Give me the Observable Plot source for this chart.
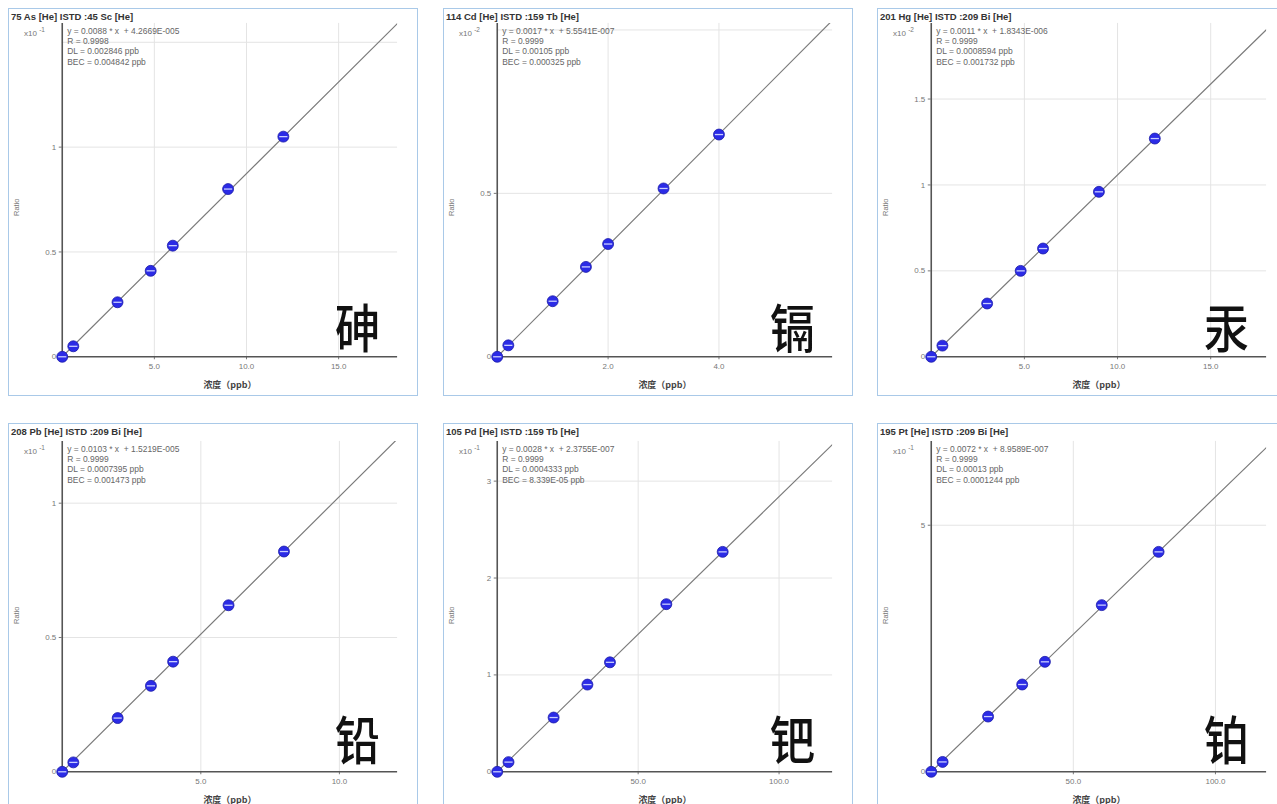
<!DOCTYPE html>
<html><head><meta charset="utf-8">
<script src="https://cdn.jsdelivr.net/npm/d3@7"></script>
<script src="https://cdn.jsdelivr.net/npm/@observablehq/plot@0.6"></script>
<style>
html,body{margin:0;padding:0;background:#fff;}
body{width:1277px;height:804px;overflow:hidden;position:relative;font-family:"Liberation Sans",Arial,sans-serif;}
.panel{position:absolute;border:1px solid #a9c9e8;box-sizing:border-box;background:#fff;overflow:hidden;}
.panel svg{position:absolute;left:0;top:0;}
.title{position:absolute;left:2px;top:2px;font-size:9.5px;font-weight:bold;color:#333;white-space:nowrap;z-index:2;}
.exp{position:absolute;font-size:8px;color:#777;white-space:nowrap;z-index:2;}
.exp sup{font-size:6.5px;}
.ratio{position:absolute;font-size:7.5px;color:#777;transform:rotate(-90deg);transform-origin:left top;white-space:nowrap;z-index:2;}
</style></head><body>
<div id="root"></div>
<script>
// ---- data ----
const titles = ["75 As [He] ISTD :45 Sc [He]", "114 Cd [He] ISTD :159 Tb [He]", "201 Hg [He] ISTD :209 Bi [He]",
                "208 Pb [He] ISTD :209 Bi [He]", "105 Pd [He] ISTD :159 Tb [He]", "195 Pt [He] ISTD :209 Bi [He]"];
const elements = ["砷", "镉", "汞", "铅", "钯", "铂"];
const exponents = ["-1", "-2", "-2", "-1", "-1", "-1"];
const equations = ["y = 0.0088 * x  + 4.2669E-005", "y = 0.0017 * x  + 5.5541E-007", "y = 0.0011 * x  + 1.8343E-006",
                   "y = 0.0103 * x  + 1.5219E-005", "y = 0.0028 * x  + 2.3755E-007", "y = 0.0072 * x  + 8.9589E-007"];
const rValues = ["R = 0.9998", "R = 0.9999", "R = 0.9999", "R = 0.9999", "R = 0.9999", "R = 0.9999"];
const dlValues = ["DL = 0.002846 ppb", "DL = 0.00105 ppb", "DL = 0.0008594 ppb", "DL = 0.0007395 ppb", "DL = 0.0004333 ppb", "DL = 0.00013 ppb"];
const becValues = ["BEC = 0.004842 ppb", "BEC = 0.000325 ppb", "BEC = 0.001732 ppb", "BEC = 0.001473 ppb", "BEC = 8.339E-05 ppb", "BEC = 0.0001244 ppb"];

const concAs = [0, 0.6, 3, 4.8, 6, 9, 12];
const ratioAs = [0, 0.05, 0.26, 0.41, 0.53, 0.80, 1.05];
const concCd = [0, 0.2, 1, 1.6, 2, 3, 4];
const ratioCd = [0, 0.035, 0.17, 0.275, 0.345, 0.515, 0.68];
const concHg = [0, 0.6, 3, 4.8, 6, 9, 12];
const ratioHg = [0, 0.065, 0.31, 0.50, 0.63, 0.96, 1.27];
const concPb = [0, 0.4, 2, 3.2, 4, 6, 8];
const ratioPb = [0, 0.035, 0.20, 0.32, 0.41, 0.62, 0.82];
const concPd = [0, 4, 20, 32, 40, 60, 80];
const ratioPd = [0, 0.10, 0.56, 0.90, 1.13, 1.73, 2.27];
const concPt = [0, 4, 20, 32, 40, 60, 80];
const ratioPt = [0, 0.20, 1.12, 1.77, 2.23, 3.38, 4.46];

const xMax = [18.2, 6.05, 18.0, 12.1, 119, 118];
const yMax = [1.59, 1.02, 1.94, 1.23, 3.41, 6.7];
const fitEndX = [18.2, 6.05, 18.0, 12.1, 119, 118];
const fitEndY = [1.59, 1.03, 1.905, 1.24, 3.38, 6.58];

const xTicks = [[5, 10, 15], [2, 4], [5, 10, 15], [5, 10], [50, 100], [50, 100]];
const yTicks = [[0, 0.5, 1], [0, 0.5], [0, 0.5, 1, 1.5], [0, 0.5, 1], [0, 1, 2, 3], [0, 5]];
const yGrid = [[0.5, 1, 1.5], [0.5, 1], [0.5, 1, 1.5], [0.5, 1], [1, 2, 3], [5]];
const xLabel = "浓度（ppb）";
const yLabel = "Ratio";

const concs = [concAs, concCd, concHg, concPb, concPd, concPt];
const ratios = [ratioAs, ratioCd, ratioHg, ratioPb, ratioPd, ratioPt];

// ---- layout ----
const panelLeft = [8, 443, 877, 8, 443, 877];
const panelTop = [8, 8, 8, 423, 423, 423];
const W = 410;

const barSymbol = {
  draw(ctx, size) {
    const r = Math.sqrt(size / Math.PI) * 0.75;
    ctx.moveTo(-r, 0); ctx.lineTo(r, 0);
  }
};

const root = document.getElementById("root");
for (let i = 0; i < 6; i++) {
  const row2 = i >= 3;
  const H = row2 ? 390 : 388;
  const mTop = row2 ? 17 : 14;
  const mBottom = row2 ? 41 : 39;
  const pts = concs[i].map((c, k) => ({c, r: ratios[i][k]}));
  const fit = [{c: 0, r: 0}, {c: fitEndX[i], r: fitEndY[i]}];

  const panel = document.createElement("div");
  panel.className = "panel";
  panel.style.left = panelLeft[i] + "px";
  panel.style.top = panelTop[i] + "px";
  panel.style.width = W + "px";
  panel.style.height = H + "px";
  root.appendChild(panel);

  const chart = Plot.plot({
    width: W, height: H,
    marginLeft: 53, marginRight: 20, marginTop: mTop, marginBottom: mBottom,
    style: {fontFamily: "'Liberation Sans', Arial, sans-serif", fontSize: "8px", color: "#777", background: "transparent"},
    x: {domain: [0, xMax[i]], ticks: xTicks[i], tickFormat: d3.format(".1f"), tickSize: 3, tickPadding: 4, label: null},
    y: {domain: [0, yMax[i]], ticks: yTicks[i], tickFormat: d => String(d), tickSize: 3, tickPadding: 3, label: null},
    marks: [
      Plot.ruleX(xTicks[i], {stroke: "#e4e4e4", strokeWidth: 1}),
      Plot.ruleY(yGrid[i], {stroke: "#e4e4e4", strokeWidth: 1}),
      Plot.ruleX([0], {stroke: "#555", strokeWidth: 1.6}),
      Plot.ruleY([0], {stroke: "#555", strokeWidth: 1.6}),
      Plot.line(fit, {x: "c", y: "r", stroke: "#7c7c7c", strokeWidth: 1.2, clip: true}),
      Plot.dot(pts, {x: "c", y: "r", r: 5.5, fill: "#2b2be6", stroke: "#1a1aa8", strokeWidth: 0.8}),
      Plot.dot(pts, {x: "c", y: "r", r: 5.5, symbol: barSymbol, stroke: "#c9ceff", strokeWidth: 1.3}),
      Plot.text([[equations[i], rValues[i], dlValues[i], becValues[i]].join("\n")], {
        frameAnchor: "top-left", dx: 5, dy: 3, textAnchor: "start", lineAnchor: "top",
        lineHeight: 1.22, fontSize: 8.5, fill: "#666"
      }),
      Plot.text([elements[i]], {
        frameAnchor: "bottom-right", dx: -18, dy: row2 ? -12 : -9, textAnchor: "end", lineAnchor: "bottom",
        fontSize: 52, fontFamily: "'Noto Sans CJK SC', sans-serif", fontWeight: 500, fill: "#111",
        className: "bigchar"
      }),
      Plot.text([xLabel], {
        frameAnchor: "bottom", dy: 28, lineAnchor: "middle", fontSize: 9, fontWeight: "bold",
        fontFamily: "'Noto Sans CJK SC', sans-serif", fill: "#444"
      })
    ]
  });
  // narrow the big character glyph to match the reference's aspect
  d3.select(chart).selectAll("text").filter(function() { return this.textContent === elements[i]; })
    .attr("textLength", 45).attr("lengthAdjust", "spacingAndGlyphs");
  panel.appendChild(chart);

  const t = document.createElement("div");
  t.className = "title"; t.textContent = titles[i];
  panel.appendChild(t);

  const e = document.createElement("div");
  e.className = "exp"; e.innerHTML = "x10 <sup>" + exponents[i] + "</sup>";
  e.style.left = "15px"; e.style.top = (mTop + 3) + "px";
  panel.appendChild(e);

  const rl = document.createElement("div");
  rl.className = "ratio"; rl.textContent = yLabel;
  rl.style.left = "3px"; rl.style.top = (row2 ? 200 : 207) + "px";
  panel.appendChild(rl);
}
</script>
</body></html>
